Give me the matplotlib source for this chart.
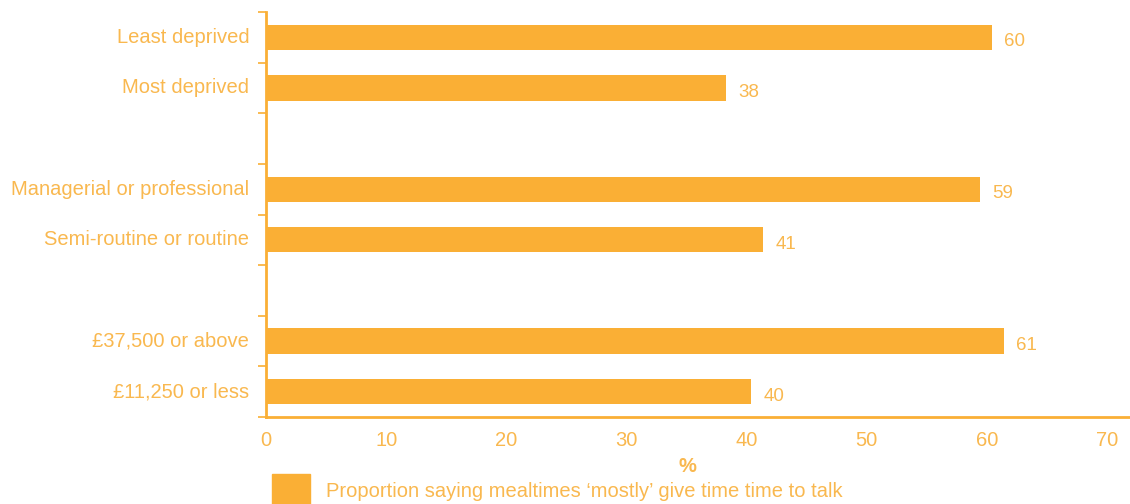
import matplotlib.pyplot as plt
from matplotlib.patches import Patch

# datos
categorias = ["Least deprived", "Most deprived", "",
              "Managerial or professional", "Semi-routine or routine", "",
              "£37,500 or above", "£11,250 or less"]
valores = [60.4, 38.3, None, 59.4, 41.4, None, 61.4, 40.4]
etiquetas = ["60", "38", "", "59", "41", "", "61", "40"]
xticks = [0, 10, 20, 30, 40, 50, 60, 70]
leyenda = "Proportion saying mealtimes \u2018mostly\u2019 give time time to talk"

naranja = "#FAAF35"
texto = "#F9B84F"

plt.rcParams['font.family'] = ['Liberation Sans', 'DejaVu Sans']

fig = plt.figure(figsize=(11.3, 5.04), dpi=100)
ax = fig.add_axes([266 / 1130, 1 - 417 / 504, 1 - 266 / 1130, 405 / 504])

n = len(categorias)
pos = [n - 1 - i + 0.5 for i in range(n)]

for p, v, t in zip(pos, valores, etiquetas):
    if v is None:
        continue
    ax.barh(p, v, height=0.5, color=naranja)
    ax.text(v + 1.0, p - 0.09, t, va='center', ha='left', fontsize=13.5, color=texto)

ax.set_xlim(0, 71.9)
ax.set_ylim(0, n)
ax.set_xticks(xticks)
ax.tick_params(axis='x', length=0, pad=10, labelsize=14.5, labelcolor=texto)

ax.set_yticks(range(n + 1))
ax.set_yticklabels([])
ax.tick_params(axis='y', which='major', length=6, width=1.2, color=naranja, direction='out')
ax.set_yticks([p + 0.04 for p in pos], minor=True)
ax.set_yticklabels(categorias, minor=True)
ax.tick_params(axis='y', which='minor', length=0, pad=12, labelsize=14.5, labelcolor=texto)

for s in ['top', 'right']:
    ax.spines[s].set_visible(False)
for s in ['left', 'bottom']:
    ax.spines[s].set_color(naranja)
    ax.spines[s].set_linewidth(2)

ax.set_xlabel('%', fontsize=14.5, color=texto, fontweight='bold')
ax.xaxis.set_label_coords((687 - 266) / (1130 - 266), -(457 - 417) / 405, transform=ax.transAxes)
ax.xaxis.label.set_va('top')

fig.legend(handles=[Patch(color=naranja, label=leyenda)], loc='upper left',
           bbox_to_anchor=(272 / 1130, 1 - 474 / 504), frameon=False,
           fontsize=14.5, handlelength=1.9, handleheight=2.1, handletextpad=0.8,
           borderpad=0, borderaxespad=0, labelcolor=texto)

fig.savefig('out.png', dpi=100)
